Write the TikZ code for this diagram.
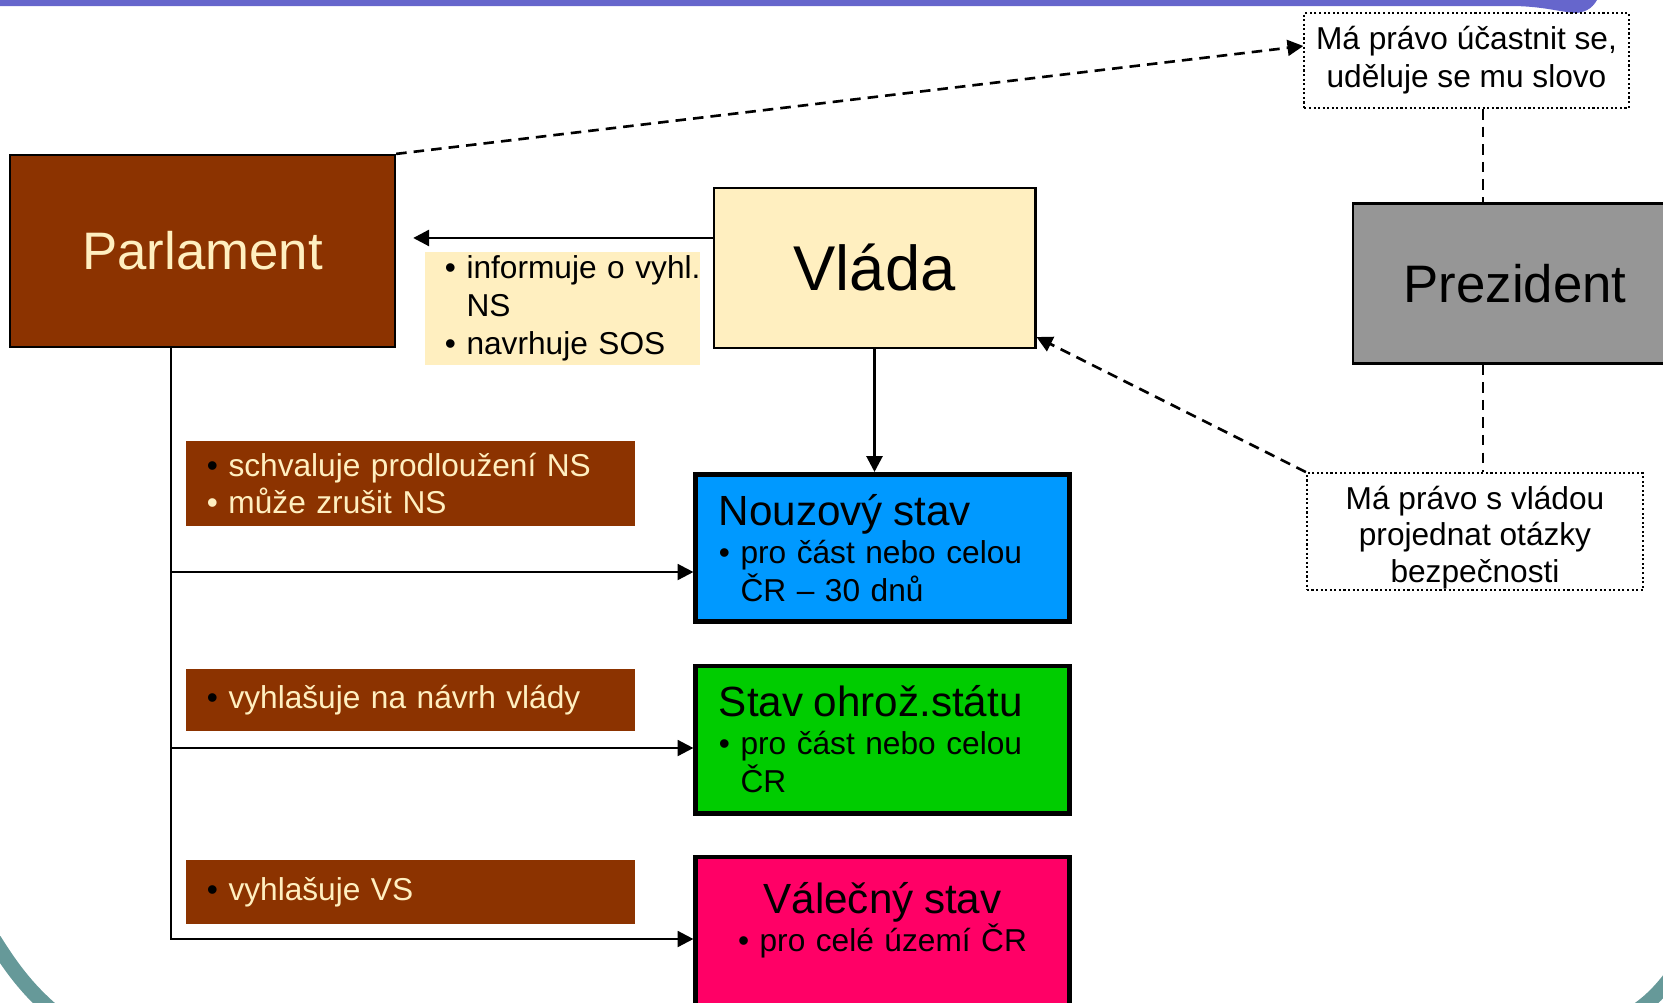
\documentclass[tikz,border=0pt]{standalone}
\usepackage{fontspec}
\setmainfont{Liberation Sans}
\usetikzlibrary{arrows.meta, positioning}
\definecolor{hneda}{HTML}{8C3300}
\definecolor{krem}{HTML}{FFEFC0}
\definecolor{modra}{HTML}{0099FF}
\definecolor{zelena}{HTML}{00CC00}
\definecolor{ruzova}{HTML}{FF0066}
\definecolor{seda}{HTML}{969696}
\definecolor{fialova}{HTML}{6666CC}
\definecolor{tyrkys}{HTML}{669999}
\newcommand{\drobne}{\fontsize{9}{10.8}\selectfont}
\newcommand{\nadpis}{\fontsize{12}{10.8}\selectfont}

\begin{document}
\begin{tikzpicture}[x=0.01cm, y=-0.01cm, >={Triangle[length=4.5pt,width=4.5pt]},
  stav/.style={draw, line width=1.4pt, text width=3.27cm, inner xsep=0.23cm, minimum height=1.47cm, align=left, font=\drobne},
  stitek/.style={fill=hneda, text=krem, text width=4.07cm, inner xsep=0.21cm, align=left, font=\drobne},
  tecky/.style={draw, line width=0.6pt, dash pattern=on 0.6pt off 0.7pt, fill=white, align=center, inner ysep=1pt, font=\drobne},
  blok/.style={draw, line width=0.6pt, font=\fontsize{15}{18}\selectfont},
  carkovane/.style={line width=0.75pt, dash pattern=on 3pt off 2pt}]
\useasboundingbox (0,0) rectangle (1663,1003);
\clip (0,0) rectangle (1663,1003);
\fill[fialova] (0,0) -- (1597,0) .. controls (1592,9) and (1584,13) .. (1574,13) .. controls (1556,11) and (1540,6) .. (1510,6) -- (0,6) -- cycle;
\draw[tyrkys, line width=4.3pt] (-6,940) .. controls (14,972) and (30,992) .. (56,1014);
\draw[tyrkys, line width=4.3pt] (1672,976) .. controls (1660,992) and (1648,1004) .. (1632,1014);

\node (parl) [blok, fill=hneda, text=krem, minimum width=3.85cm, minimum height=1.92cm] at (202.5,251) {Parlament};
\node (vlada) [blok, fill=krem, line width=0.8pt, minimum width=3.21cm, minimum height=1.6cm, font=\fontsize{18}{20}\selectfont] at (874.5,268) {Vláda};
\node (prez) [blok, fill=seda, minimum width=3.24cm, minimum height=1.6cm] at (1515,283.5) {Prezident};
\node (prava) [tecky, minimum width=3.21cm, minimum height=0.95cm] at (1466.5,60.5) {Má právo účastnit se,\\uděluje se mu slovo};
\node (jednat) [tecky, minimum width=3.36cm, minimum height=1.13cm, font=\fontsize{9}{10.4}\selectfont] at (1475,531.5) {\raisebox{-2pt}[\height][\depth]{\begin{tabular}{@{}c@{}}Má právo s vládou\\projednat otázky\\bezpečnosti\end{tabular}}};
\node (info) [fill=krem, text width=2.35cm, inner xsep=0.2cm, inner ysep=1pt, minimum height=1.13cm, align=left, font=\drobne] at (562.5,308.5) {\mbox{\textbullet\ informuje o vyhl.}\\\hphantom{\textbullet\ }NS\\\textbullet\ navrhuje SOS};

\node (nouz) [stav, fill=modra] at (882.5,548) {{\nadpis Nouzový stav}\\\textbullet\ pro část nebo celou\\\hphantom{\textbullet\ }ČR – 30 dnů};
\node (ohroz) [stav, fill=zelena] at (882.5,739.5) {{\nadpis Stav ohrož.státu}\\\textbullet\ pro část nebo celou\\\hphantom{\textbullet\ }ČR};
\node (valka) [stav, fill=ruzova, align=center, minimum height=1.5cm] at (882.5,932) {{\nadpis Válečný stav}\\\textbullet\ pro celé území ČR\\[-2pt]\mbox{}};

\node (lab1) [stitek, minimum height=0.79cm] at (410.5,483.5) {{\color{black}\textbullet}\ schvaluje prodloužení NS\\\textbullet\ může zrušit NS};
\node (lab2) [stitek, minimum height=0.62cm] at (410.5,700) {{\color{black}\textbullet}\ vyhlašuje na návrh vlády};
\node (lab3) [stitek, minimum height=0.63cm] at (410.5,892) {{\color{black}\textbullet}\ vyhlašuje VS};

\coordinate (kmen) at ([xshift=-3.15mm]parl.south);
\coordinate (vl) at ([yshift=3mm]vlada.west);
\coordinate (osa) at (1483,0);

\draw[->, line width=0.8pt, shorten >=1.7mm] (vl) -- (vl -| parl.east);
\draw[->, line width=0.8pt] (vlada.south) -- (vlada.south |- nouz.north);
\draw[->, line width=0.7pt] (kmen) |- ([yshift=-2.4mm]nouz.west);
\draw[->, line width=0.7pt] (kmen) |- ([yshift=-0.85mm]ohroz.west);
\draw[->, line width=0.7pt] (kmen) |- ([yshift=-0.7mm]valka.west);

\draw[->, carkovane] (parl.north east) -- ([yshift=1.45mm]prava.west);
\draw[->, carkovane] (jednat.north west) -- ([yshift=-6.9mm]vlada.east);
\draw[carkovane] (osa |- prava.south) -- (osa |- prez.north);
\draw[carkovane] (osa |- prez.south) -- (osa |- jednat.north);
\end{tikzpicture}
\end{document}
